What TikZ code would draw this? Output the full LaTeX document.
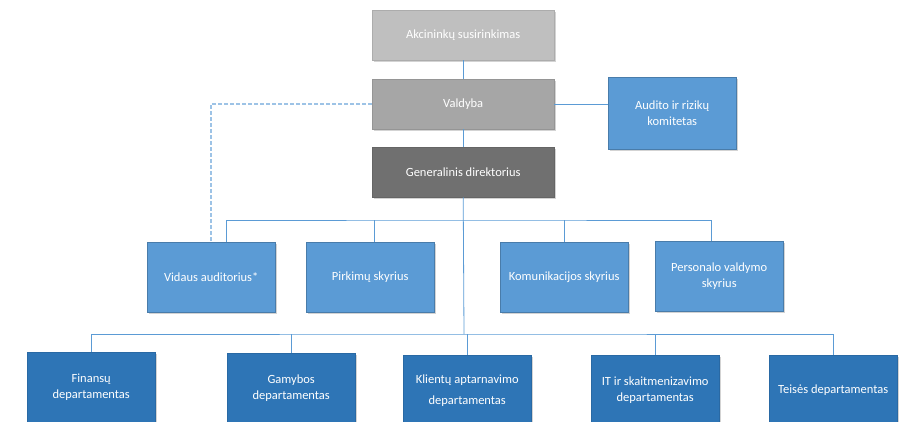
\documentclass[tikz,border=0pt]{standalone}
\usepackage{fontspec}
\setmainfont{Carlito}
\usepackage{tikz}
\usetikzlibrary{shadows}
\definecolor{grayone}{RGB}{191, 191, 191}
\definecolor{graytwo}{RGB}{166, 166, 166}
\definecolor{graythree}{RGB}{112, 112, 112}
\definecolor{bluelight}{RGB}{91, 155, 213}
\definecolor{bluedark}{RGB}{46, 117, 182}
\definecolor{blueline}{RGB}{91, 155, 213}
\definecolor{bluedash}{RGB}{157, 195, 230}
\tikzset{
	box/.style={rectangle, anchor=north west, text=white, align=center,
		font=\fontsize{12.5}{15.5}\selectfont, inner sep=2pt,
		drop shadow={opacity=0.35, shadow xshift=1.5pt, shadow yshift=-1.5pt}},
	graybox/.style={box, fill=#1, draw=#1!90!black, minimum width=182pt, minimum height=50pt},
	skyrius/.style={box, fill=bluelight, draw=bluelight!80!black, minimum width=128pt, minimum height=70pt},
	dept/.style={box, fill=bluedark, draw=bluedark!90!black, minimum width=128pt, minimum height=70pt},
	conn/.style={blueline, line width=0.8pt},
	dash line/.style={bluedash, line width=1.5pt, dash pattern=on 4pt off 2pt}
}

\begin{document}
\begin{tikzpicture}[x=1pt, y=-1pt]
	\useasboundingbox (0,0) rectangle (915,421);
	\clip (0,0) rectangle (915,421);

	% vadovybe
	\node[graybox=grayone] (akc) at (372,10) {Akcininkų susirinkimas};
	\node[graybox=graytwo] (val) at (372,79) {Valdyba};
	\node[graybox=graythree] (gen) at (372,147) {Generalinis direktorius};
	\node[skyrius, minimum height=72pt] (aud) at (608,77) {Audito ir rizikų\\komitetas};

	% skyriai
	\node[skyrius] (vid) at (147,242) {Vidaus auditorius*};
	\node[skyrius] (pir) at (306,242) {Pirkimų skyrius};
	\node[skyrius] (kom) at (500,242) {Komunikacijos skyrius};
	\node[skyrius] (per) at (655,241) {Personalo valdymo\\skyrius};

	% departamentai
	\node[dept] (fin) at (27,352) {Finansų\\departamentas};
	\node[dept] (gam) at (227,353) {Gamybos\\departamentas};
	\node[dept, font=\fontsize{12.5}{21}\selectfont] (kli) at (403,355) {Klientų aptarnavimo\\departamentas};
	\node[dept] (itd) at (591,355) {IT ir skaitmenizavimo\\departamentas};
	\node[dept] (tei) at (769,355) {Teisės departamentas};

	\coordinate (midbus) at (464,220);
	\coordinate (lowbus) at (464,334);

	\draw[conn] (akc.south) -- (val.north);
	\draw[conn] (val.south) -- (gen.north);
	\draw[conn] (val.east) -- (aud.west |- val.east);
	\draw[dash line] (val.west) -| (vid.north);
	\draw[conn] (gen.south) -- (lowbus);

	\draw[conn] ([xshift=15pt]vid.north) |- (midbus) -| ([xshift=-8pt]per.north);
	\draw[conn] ([xshift=4pt]pir.north) -- ([xshift=4pt]pir.north |- midbus);
	\draw[conn] (kom.north) -- (kom.north |- midbus);

	\draw[conn] (fin.north) |- (lowbus) -| (tei.north);
	\draw[conn] (gam.north) -- (gam.north |- lowbus);
	\draw[conn] (kli.north) -- (kli.north |- lowbus);
	\draw[conn] (itd.north) -- (itd.north |- lowbus);
\end{tikzpicture}
\end{document}
